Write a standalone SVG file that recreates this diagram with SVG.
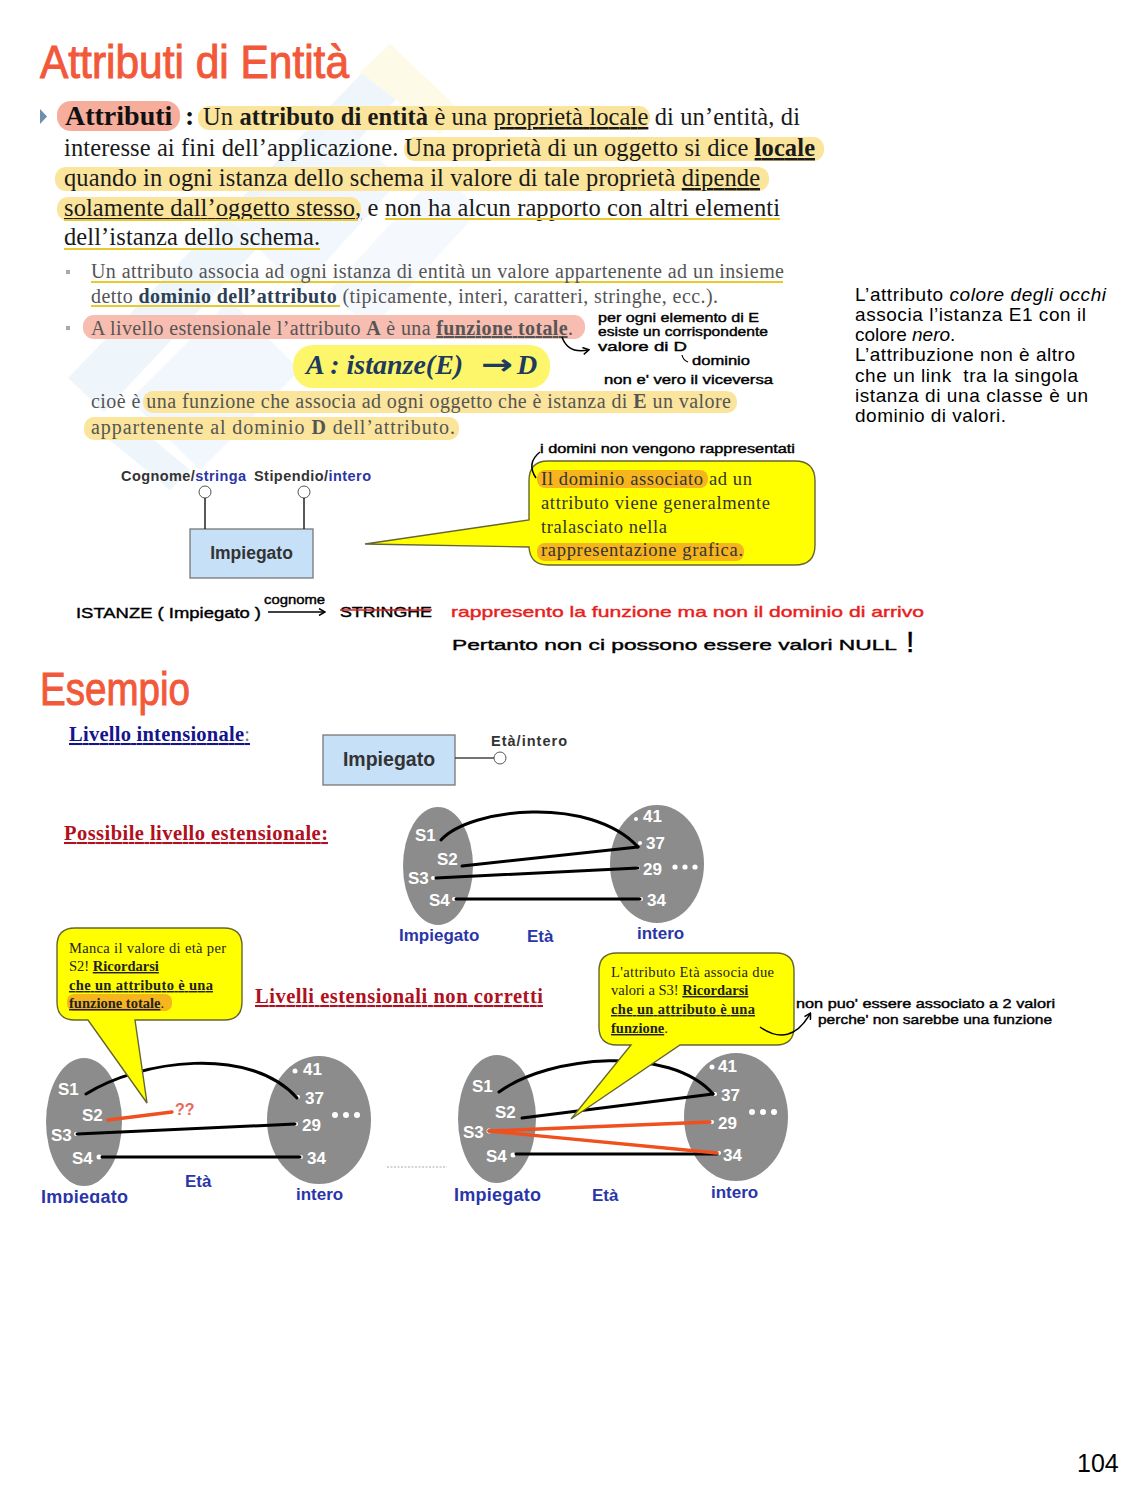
<svg xmlns="http://www.w3.org/2000/svg" width="1148" height="1506" viewBox="0 0 1148 1506">
<defs>
<marker id="ah" markerWidth="8" markerHeight="8" refX="6" refY="4" orient="auto" markerUnits="userSpaceOnUse"><path d="M1 0.5L7 4L1 7.5" fill="none" stroke="#000" stroke-width="1.5"/></marker>
</defs>
<style>
text{white-space:pre}
.s{font-family:"Liberation Serif","Times New Roman",serif}
.a{font-family:"Liberation Sans",Arial,sans-serif}
.m{font-size:24.5px;fill:#1a1a1a}
.g{font-size:20px;fill:#555}
.h{font-family:"Liberation Sans",Arial,sans-serif;font-size:13px;fill:#000;stroke:#000;stroke-width:.4}
.h2{font-size:15px}
.t{font-family:"Liberation Sans",Arial,sans-serif;fill:#f2593a;font-size:46px;stroke:#f2593a;stroke-width:1}
.n{font-family:"Liberation Sans",Arial,sans-serif;font-size:19px;fill:#000}
.hy{fill:#fbe59c}
.hr{fill:#f7bdb0}
.ul{stroke:#e8c92e;stroke-width:2}
.box{fill:#c5e0f7;stroke:#777;stroke-width:1.3}
.lab{font-family:"Liberation Sans",Arial,sans-serif;font-weight:bold;font-size:14.5px;fill:#333}
.b{fill:#2a35a8}
.ent{font-family:"Liberation Sans",Arial,sans-serif;font-weight:bold;font-size:17px;fill:#2a35a8}
.ent2{font-size:18px}
.ell{fill:#8c8c8c}
.w{font-family:"Liberation Sans",Arial,sans-serif;font-weight:bold;font-size:17px;fill:#fff}
.dot{fill:#fff}
.call{fill:#ffff00;stroke:#666633;stroke-width:1.4}
.ct{font-family:"Liberation Serif",serif;font-size:14.5px;fill:#222}
.ct2{font-family:"Liberation Serif",serif;font-size:18.5px;fill:#333}
.l{fill:none;stroke:#000;stroke-width:3;stroke-linecap:round}
.o{fill:none;stroke:#f0501e;stroke-width:3.4;stroke-linecap:round}
.hl{font-family:"Liberation Serif",serif;font-weight:bold;font-size:20.5px;text-decoration:underline}
</style>
<rect width="1148" height="1506" fill="#fff"/>

<g id="watermark">
<polygon points="68,378 390,44 420,74 104,412" fill="#eef5fb"/>
<polygon points="390,44 462,112 440,134 360,72" fill="#fdfbe8"/>
<polygon points="130,400 230,300 300,370 200,470" fill="#f1f7fc"/>
<polygon points="230,220 340,120 400,180 300,290" fill="#f1f7fc"/>
<polygon points="330,290 440,170 480,210 370,330" fill="#f5f9fd"/>
<polygon points="130,420 190,470 170,490 110,440" fill="#eef5fb"/>
</g>

<g id="title"><text class="t" x="40" y="78" textLength="309" lengthAdjust="spacingAndGlyphs">Attributi di Entità</text></g>

<g id="highlights">
<rect x="57" y="101" width="123" height="30" rx="14" fill="#f6ad9c"/>
<rect x="198" y="106" width="452" height="24" rx="11" class="hy"/>
<rect x="404" y="137" width="420" height="24" rx="11" class="hy"/>
<rect x="55" y="167" width="714" height="24" rx="11" class="hy"/>
<rect x="57" y="197" width="304" height="24" rx="11" class="hy"/>
<rect x="83" y="315" width="502" height="24" rx="11" class="hr"/>
<rect x="293" y="345" width="257" height="43" rx="20" fill="#fdf66a"/>
<rect x="143" y="391" width="594" height="22" rx="10" class="hy"/>
<rect x="84" y="417" width="375" height="23" rx="10" class="hy"/>
</g>

<g id="body">
<path d="M40 109L47 116.500L40 124Z" fill="#6f8fae"/>
<text class="s" x="65" y="125" font-size="28" font-weight="bold" fill="#111">Attributi</text>
<text class="s" x="185" y="125" font-size="28" font-weight="bold" fill="#111">:</text>
<text class="s m" x="203" y="125" textLength="597">Un <tspan font-weight="bold">attributo di entità</tspan> è una <tspan text-decoration="underline">proprietà locale</tspan> di un’entità, di</text>
<text class="s m" x="64" y="156" textLength="751">interesse ai fini dell’applicazione. Una proprietà di un oggetto si dice <tspan font-weight="bold" text-decoration="underline">locale</tspan></text>
<text class="s m" x="64" y="186" textLength="696">quando in ogni istanza dello schema il valore di tale proprietà <tspan text-decoration="underline">dipende</tspan></text>
<text class="s m" x="64" y="216" textLength="716"><tspan text-decoration="underline">solamente dall’oggetto stesso,</tspan> e non ha alcun rapporto con altri elementi</text>
<text class="s m" x="64" y="245" textLength="256">dell’istanza dello schema.</text>
<path class="ul" d="M64 220H358M385 219H780M64 249H320M91 282H783M91 306H340" fill="none"/>
<rect x="66" y="270" width="4" height="4" fill="#aaa"/>
<rect x="66" y="326" width="4" height="4" fill="#aaa"/>
<text class="s g" x="91" y="278" textLength="693">Un attributo associa ad ogni istanza di entità un valore appartenente ad un insieme</text>
<text class="s g" x="91" y="303" textLength="627">detto <tspan font-weight="bold" fill="#2d3f55">dominio dell’attributo</tspan> (tipicamente, interi, caratteri, stringhe, ecc.).</text>
<text class="s g" x="91" y="335" textLength="482">A livello estensionale l’attributo <tspan font-weight="bold">A</tspan> è una <tspan font-weight="bold" text-decoration="underline">funzione totale</tspan>.</text>
<text class="s" x="306" y="374" font-size="28" font-weight="bold" font-style="italic" fill="#1f3a5f">A : istanze(E)</text>
<text x="481" y="374" font-family="DejaVu Sans" font-size="28" font-weight="bold" fill="#1f3a5f" textLength="32" lengthAdjust="spacingAndGlyphs">→</text>
<text class="s" x="517" y="374" font-size="28" font-weight="bold" font-style="italic" fill="#1f3a5f">D</text>
<text class="s g" x="91" y="408" textLength="640">cioè è una funzione che associa ad ogni oggetto che è istanza di <tspan font-weight="bold">E</tspan> un valore</text>
<text class="s g" x="91" y="434" textLength="364">appartenente al dominio <tspan font-weight="bold">D</tspan> dell’attributo.</text>
</g>

<g id="notes-top">
<text class="h" x="598" y="322" textLength="161" lengthAdjust="spacingAndGlyphs">per ogni elemento di E</text>
<text class="h" x="598" y="336" textLength="170" lengthAdjust="spacingAndGlyphs">esiste un corrispondente</text>
<text class="h" x="598" y="351" textLength="89" lengthAdjust="spacingAndGlyphs">valore di D</text>
<text class="h" x="692" y="365" textLength="58" lengthAdjust="spacingAndGlyphs">dominio</text>
<text class="h" x="604" y="384" textLength="169" lengthAdjust="spacingAndGlyphs">non e' vero il viceversa</text>
<path d="M682 355Q683 360 688 362" fill="none" stroke="#000" stroke-width="1.2"/>
<path d="M562 337Q568 354 588 350" fill="none" stroke="#000" stroke-width="1.5" marker-end="url(#ah)"/>
</g>

<g id="side-note">
<text class="n" x="855" y="301" textLength="251">L’attributo <tspan font-style="italic">colore degli occhi</tspan></text>
<text class="n" x="855" y="321" textLength="231">associa l’istanza E1 con il</text>
<text class="n" x="855" y="341">colore <tspan font-style="italic">nero</tspan>.</text>
<text class="n" x="855" y="361" textLength="220">L’attribuzione non è altro</text>
<text class="n" x="855" y="382" textLength="223">che un link  tra la singola</text>
<text class="n" x="855" y="402" textLength="233">istanza di una classe è un</text>
<text class="n" x="855" y="422" textLength="151">dominio di valori.</text>
</g>

<g id="impiegato-top">
<rect class="box" x="190" y="529" width="123" height="49"/>
<text class="a" x="251.500" y="559" font-size="17.500" font-weight="bold" fill="#333" text-anchor="middle">Impiegato</text>
</g>
<g id="attr-cognome">
<circle cx="205" cy="492" r="6" fill="#fff" stroke="#555"/>
<text class="lab" x="121" y="481" textLength="125">Cognome/<tspan class="b">stringa</tspan></text>
</g>
<g id="attr-stipendio">
<circle cx="304" cy="492" r="6" fill="#fff" stroke="#555"/>
<text class="lab" x="254" y="481" textLength="117">Stipendio/<tspan class="b">intero</tspan></text>
</g>

<g id="callout-dominio">
<path class="call" d="M548 461H795Q815 461 815 481V545Q815 565 795 565H548Q530 565 529 547L365 544L529 520V481Q529 461 548 461Z"/>
<rect x="537" y="470" width="171" height="18" rx="8" fill="#f6b51d"/>
<rect x="537" y="543" width="207" height="18" rx="8" fill="#f6b51d"/>
<text class="ct2" x="541" y="485" textLength="211">Il dominio associato ad un</text>
<text class="ct2" x="541" y="509" textLength="229">attributo viene generalmente</text>
<text class="ct2" x="541" y="533" textLength="126">tralasciato nella</text>
<text class="ct2" x="541" y="556" textLength="202">rappresentazione grafica.</text>
</g>

<g id="notes-mid">
<text class="h" x="540" y="453" textLength="255" lengthAdjust="spacingAndGlyphs">i domini non vengono rappresentati</text>
<path d="M536 478Q526 463 540 452" fill="none" stroke="#000" stroke-width="1.5"/>
<text class="h h2" x="76" y="618" textLength="185" lengthAdjust="spacingAndGlyphs">ISTANZE ( Impiegato )</text>
<text class="h" x="264" y="604" textLength="61" lengthAdjust="spacingAndGlyphs">cognome</text>
<path d="M268 612H324" stroke="#000" stroke-width="1.500" marker-end="url(#ah)" fill="none"/>
<text class="h h2" x="340" y="617" textLength="92" lengthAdjust="spacingAndGlyphs">STRINGHE</text>
<path d="M340 610H432" stroke="#e02020" stroke-width="1.6"/>
<text class="h h2" x="451" y="617" textLength="473" lengthAdjust="spacingAndGlyphs" style="fill:#e8201c;stroke:#e8201c">rappresento la funzione ma non il dominio di arrivo</text>
<text class="h h2" x="452" y="650" textLength="445" lengthAdjust="spacingAndGlyphs">Pertanto non ci possono essere valori NULL</text>
<text class="h" x="906" y="652" style="font-size:30px">!</text>
</g>

<g id="title-esempio"><text class="t" x="40" y="705" textLength="150" lengthAdjust="spacingAndGlyphs">Esempio</text></g>

<g id="headings">
<text class="hl" x="69" y="741" fill="#14148c" textLength="181">Livello intensionale<tspan fill="#777" font-weight="normal" text-decoration="none">:</tspan></text>
<text class="hl" x="64" y="840" fill="#b01020" textLength="264">Possibile livello estensionale:</text>
<text class="hl" x="255" y="1003" fill="#b01020" textLength="288">Livelli estensionali non corretti</text>
</g>

<g id="impiegato-int">
<rect class="box" x="323" y="735" width="132" height="50"/>
<text class="a" x="389" y="766" font-size="19.500" font-weight="bold" fill="#333" text-anchor="middle">Impiegato</text>
</g>
<g id="attr-eta">
<circle cx="500" cy="758" r="6" fill="#fff" stroke="#555"/>
<text class="lab" x="491" y="746" textLength="76">Età/intero</text>
</g>

<g id="set-mid">
<ellipse class="ell" cx="438" cy="866" rx="35" ry="59"/>
<ellipse class="ell" cx="657" cy="864" rx="47" ry="59"/>
<text class="w" x="415" y="841">S1</text><text class="w" x="437" y="865">S2</text><text class="w" x="408" y="884">S3</text><text class="w" x="429" y="906">S4</text>
<text class="w" x="643" y="822">41</text><text class="w" x="646" y="849">37</text><text class="w" x="643" y="875">29</text><text class="w" x="647" y="906">34</text>
<circle class="dot" cx="636" cy="819" r="2"/><circle class="dot" cx="640" cy="843" r="2"/><circle class="dot" cx="638" cy="868" r="2"/><circle class="dot" cx="641" cy="899" r="2"/><circle class="dot" cx="454" cy="899" r="2"/><circle class="dot" cx="433" cy="878" r="2"/>
<circle class="dot" cx="675" cy="867" r="2.600"/><circle class="dot" cx="685" cy="867" r="2.600"/><circle class="dot" cx="695" cy="867" r="2.600"/>
<text class="ent" x="399" y="941">Impiegato</text><text class="ent" x="527" y="942">Età</text><text class="ent" x="637" y="939">intero</text>
</g>

<g id="set-left">
<ellipse class="ell" cx="84" cy="1122" rx="38" ry="64"/>
<ellipse class="ell" cx="319" cy="1120" rx="52" ry="64"/>
<text class="w" x="58" y="1095">S1</text><text class="w" x="82" y="1121">S2</text><text class="w" x="51" y="1141">S3</text><text class="w" x="72" y="1164">S4</text>
<text class="w" x="303" y="1075">41</text><text class="w" x="305" y="1104">37</text><text class="w" x="302" y="1131">29</text><text class="w" x="307" y="1164">34</text>
<circle class="dot" cx="295" cy="1071" r="2.500"/><circle class="dot" cx="298" cy="1097" r="2"/><circle class="dot" cx="296" cy="1124" r="2"/><circle class="dot" cx="301" cy="1157" r="2"/><circle class="dot" cx="99" cy="1157" r="2.500"/><circle class="dot" cx="76" cy="1134" r="2"/>
<circle class="dot" cx="335" cy="1115" r="3"/><circle class="dot" cx="346" cy="1115" r="3"/><circle class="dot" cx="357" cy="1115" r="3"/>
<text class="ent ent2" x="41" y="1203" textLength="87">Impiegato</text>
<text class="ent" x="185" y="1187">Età</text><text class="ent" x="296" y="1200">intero</text>
<text class="a" x="175" y="1115" font-size="16" font-weight="bold" fill="#e66a5a">??</text>
</g>
<rect x="38" y="1203" width="100" height="8" fill="#fff"/>

<g id="set-right">
<ellipse class="ell" cx="497" cy="1119" rx="39" ry="64"/>
<ellipse class="ell" cx="736" cy="1117" rx="52" ry="64"/>
<text class="w" x="472" y="1092">S1</text><text class="w" x="495" y="1118">S2</text><text class="w" x="463" y="1138">S3</text><text class="w" x="486" y="1162">S4</text>
<text class="w" x="718" y="1072">41</text><text class="w" x="721" y="1101">37</text><text class="w" x="718" y="1129">29</text><text class="w" x="723" y="1161">34</text>
<circle class="dot" cx="712" cy="1067" r="2.500"/><circle class="dot" cx="715" cy="1094" r="2"/><circle class="dot" cx="712" cy="1122" r="2"/><circle class="dot" cx="719" cy="1153" r="2"/><circle class="dot" cx="513" cy="1155" r="2.500"/><circle class="dot" cx="489" cy="1131" r="2.500"/>
<circle class="dot" cx="752" cy="1112" r="3"/><circle class="dot" cx="763" cy="1112" r="3"/><circle class="dot" cx="774" cy="1112" r="3"/>
<text class="ent ent2" x="454" y="1201" textLength="87">Impiegato</text>
<text class="ent" x="592" y="1201">Età</text><text class="ent" x="711" y="1198">intero</text>
</g>

<g id="connectors">
<line x1="205" y1="498" x2="205" y2="529" stroke="#222" stroke-width="1.500"/>
<line x1="304" y1="498" x2="304" y2="529" stroke="#222" stroke-width="1.500"/>
<line x1="455" y1="758" x2="494" y2="758" stroke="#444" stroke-width="1.300"/>
<path class="l" d="M441 840C470 808 590 795 638 847"/>
<path class="l" d="M462 866L638 847"/>
<path class="l" d="M436 878L638 868"/>
<path class="l" d="M456 899H640"/>
<path class="l" d="M86 1094C140 1060 250 1045 297 1098"/>
<path class="o" d="M108 1120L172 1112"/>
<path class="l" d="M77 1134L295 1124"/>
<path class="l" d="M102 1157H300"/>
<path class="l" d="M499 1092C550 1055 670 1045 713 1094"/>
<path class="l" d="M522 1118L713 1094"/>
<path class="l" d="M516 1154H717"/>
<path class="o" d="M489 1131L710 1122"/>
<path class="o" d="M489 1131L717 1153"/>
<line x1="387" y1="1167" x2="447" y2="1167" stroke="#aaa" stroke-width="1" stroke-dasharray="2 1.500"/>
</g>

<g id="callout-left">
<path class="call" d="M75 928H224Q242 928 242 946V1002Q242 1020 224 1020H135L147 1103L88 1020H75Q57 1020 57 1002V946Q57 928 75 928Z"/>
<rect x="67" y="994" width="105" height="17" rx="7" fill="#f6b51d"/>
<text class="ct" x="69" y="953" textLength="157">Manca il valore di età per</text>
<text class="ct" x="69" y="971">S2! <tspan font-weight="bold" text-decoration="underline">Ricordarsi</tspan></text>
<text class="ct" x="69" y="990" font-weight="bold" text-decoration="underline" textLength="144">che un attributo è una</text>
<text class="ct" x="69" y="1008"><tspan font-weight="bold" text-decoration="underline">funzione totale</tspan>.</text>
</g>

<g id="callout-right">
<path class="call" d="M617 953H776Q794 953 794 971V1027Q794 1045 776 1045H680L571 1119L631 1045H617Q599 1045 599 1027V971Q599 953 617 953Z"/>
<text class="ct" x="611" y="977" textLength="163">L'attributo Età associa due</text>
<text class="ct" x="611" y="995">valori a S3! <tspan font-weight="bold" text-decoration="underline">Ricordarsi</tspan></text>
<text class="ct" x="611" y="1014" font-weight="bold" text-decoration="underline" textLength="144">che un attributo è una</text>
<text class="ct" x="611" y="1033"><tspan font-weight="bold" text-decoration="underline">funzione</tspan>.</text>
</g>

<g id="notes-bottom">
<text class="h" x="796" y="1008" textLength="259" lengthAdjust="spacingAndGlyphs">non puo' essere associato a 2 valori</text>
<text class="h" x="818" y="1024" textLength="234" lengthAdjust="spacingAndGlyphs">perche' non sarebbe una funzione</text>
<path d="M760 1027Q790 1048 810 1014" fill="none" stroke="#000" stroke-width="1.500" marker-end="url(#ah)"/>
</g>

<g id="page-number"><text class="a" x="1077" y="1472" font-size="25" fill="#000">104</text></g>
</svg>
